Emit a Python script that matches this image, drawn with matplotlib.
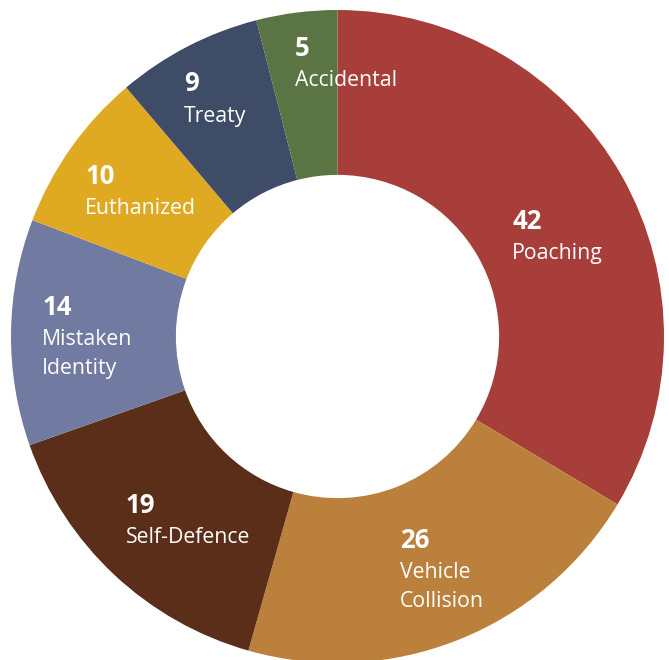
import numpy as np
import matplotlib
matplotlib.use("Agg")
from matplotlib import pyplot as plt
from matplotlib.offsetbox import TextArea, VPacker, AnnotationBbox

# Data
categories = ["Poaching", "Vehicle\nCollision", "Self-Defence", "Mistaken\nIdentity",
              "Euthanized", "Treaty", "Accidental"]
counts = [42, 26, 19, 14, 10, 9, 5]
colors = ["#A83E3A", "#BC803D", "#5A2E18", "#717AA0", "#E0A922", "#3F4C68", "#5A7444"]

# label block centres, in units of the outer radius
label_pos = [(0.674, 0.308), (0.32, -0.714), (-0.458, -0.563), (-0.766, 0.0),
             (-0.603, 0.446), (-0.375, 0.729), (0.025, 0.837)]

fig = plt.figure(figsize=(6.69, 6.60), dpi=100)
ax = fig.add_axes([0, 0, 1, 1])

ax.pie(counts, colors=colors, startangle=90, counterclock=False, radius=1.0,
       wedgeprops=dict(width=0.505, edgecolor="none"))

font = "Open Sans"
for n, lab, (x, y) in zip(counts, categories, label_pos):
    num = TextArea(str(n), textprops=dict(color="white", fontsize=18.5,
                                          fontweight="bold", family=font))
    txt = TextArea(lab, textprops=dict(color="white", fontsize=15.3, family=font,
                                       linespacing=1.5))
    box = VPacker(children=[num, txt], align="left", pad=0, sep=6)
    ab = AnnotationBbox(box, (x, y), frameon=False, box_alignment=(0.5, 0.5))
    ax.add_artist(ab)

# centre of the ring sits at (337.5, 336.5) px, outer radius 326.5 px
R = 326.5
ax.set_xlim(-337.5 / R, (669 - 337.5) / R)
ax.set_ylim(-(660 - 336.5) / R, 336.5 / R)
ax.set_aspect("equal")
ax.axis("off")

fig.savefig("out.png", dpi=100)
